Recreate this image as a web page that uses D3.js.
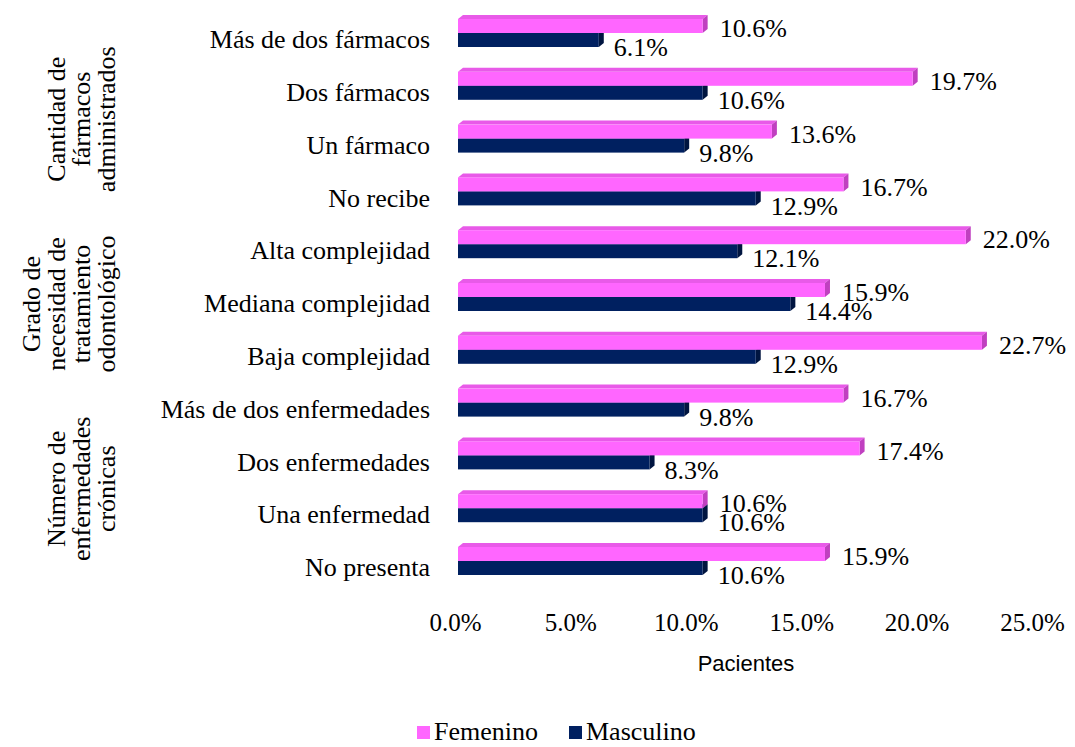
<!DOCTYPE html>
<html><head><meta charset="utf-8">
<script src="https://cdn.jsdelivr.net/npm/d3@7"></script>
<style>body{margin:0;background:#fff}svg{display:block}</style>
</head><body>
<svg id="c" width="1075" height="747"></svg>
<script>
const categories = ["Más de dos fármacos","Dos fármacos","Un fármaco","No recibe","Alta complejidad","Mediana complejidad","Baja complejidad","Más de dos enfermedades","Dos enfermedades","Una enfermedad","No presenta"];
const femenino = [10.6,19.7,13.6,16.7,22.0,15.9,22.7,16.7,17.4,10.6,15.9];
const masculino = [6.1,10.6,9.8,12.9,12.1,14.4,12.9,9.8,8.3,10.6,10.6];
const xTicks = [0,5,10,15,20,25];
const groups = [
  {lines:["Cantidad de","fármacos","administrados"], from:0, to:3},
  {lines:["Grado de","necesidad de","tratamiento","odontológico"], from:4, to:6},
  {lines:["Número de","enfermedades","crónicas"], from:7, to:10}
];
const seriesNames = ["Femenino","Masculino"];
const colors = {F:"#FF66FF", Ftop:"#E85AE8", Fside:"#C040C0", M:"#002060", Mtop:"#0A2A70", Mside:"#001540"};

const svg = d3.select("#c");
const serif = "'Liberation Serif','Times New Roman',serif";
const fs = 26;
const x = d3.scaleLinear().domain([0,25]).range([458,1035]);
const y = d3.scaleBand().domain(categories).range([12, 12+52.8*11]).padding(0);
const dx = 5, dy = -4, bh = 14;

function bar3d(g, v, top, front, topc, side){
  const x0 = x(0), x1 = x(v);
  g.append("polygon").attr("points", [[x0,top],[x0+dx,top+dy],[x1+dx,top+dy],[x1,top]].join(" ")).attr("fill", topc);
  g.append("polygon").attr("points", [[x1,top],[x1+dx,top+dy],[x1+dx,top+bh+dy],[x1,top+bh]].join(" ")).attr("fill", side);
  g.append("rect").attr("x", x0).attr("y", top).attr("width", x1-x0).attr("height", bh).attr("fill", front);
}

const gBars = svg.append("g");
categories.forEach((c,i)=>{
  const b = y(c);
  bar3d(gBars, masculino[i], b+21, colors.M, colors.Mtop, colors.Mside);
  bar3d(gBars, femenino[i], b+7, colors.F, colors.Ftop, colors.Fside);
});

// category labels
svg.append("g").selectAll("text").data(categories).join("text")
  .attr("x", 430).attr("y", d=>y(d)+27).attr("dy","0.35em")
  .attr("text-anchor","end").attr("font-family",serif).attr("font-size",fs).attr("fill","#000")
  .text(d=>d);

// value labels
const gVal = svg.append("g").attr("font-family",serif).attr("font-size",fs).attr("fill","#000");
categories.forEach((c,i)=>{
  const b = y(c);
  gVal.append("text").attr("x", x(femenino[i])+dx+12).attr("y", b+16).attr("dy","0.35em").text(femenino[i].toFixed(1)+"%");
  gVal.append("text").attr("x", x(masculino[i])+dx+10).attr("y", b+35).attr("dy","0.35em").text(masculino[i].toFixed(1)+"%");
});

// x axis ticks (no line)
const xAxis = d3.axisBottom(x).tickValues(xTicks).tickFormat(d=>d.toFixed(1)+"%").tickSize(0);
const ax = svg.append("g").attr("transform","translate(-3,612)").call(xAxis);
ax.select(".domain").remove();
ax.selectAll("text").attr("font-family",serif).attr("font-size",25).attr("fill","#000").attr("dy","0.35em").attr("y",10);

// axis title
svg.append("text").attr("x",746).attr("y",663).attr("dy","0.35em").attr("text-anchor","middle")
  .attr("font-family","'Liberation Sans',Arial,sans-serif").attr("font-size",22).attr("fill","#000").text("Pacientes");

// group labels
const gx = {0:81, 1:68, 2:81};
groups.forEach((g,gi)=>{
  const cy = (y(categories[g.from]) + y(categories[g.to]) + 56)/2;
  const cx = gx[gi];
  const n = g.lines.length, lh = 25;
  const t = svg.append("text").attr("transform",`translate(${cx},${cy}) rotate(-90)`)
    .attr("text-anchor","middle").attr("font-family",serif).attr("font-size",fs).attr("fill","#000");
  g.lines.forEach((l,k)=>{
    t.append("tspan").attr("x",0).attr("y", (k-(n-1)/2)*lh).attr("dy","0.35em").text(l);
  });
});

// legend
const leg = svg.append("g").attr("font-family",serif).attr("font-size",fs);
const legX = [417, 569];
seriesNames.forEach((s,i)=>{
  leg.append("rect").attr("x",legX[i]).attr("y",726).attr("width",13).attr("height",13).attr("fill", i===0?colors.F:colors.M);
  leg.append("text").attr("x",legX[i]+17).attr("y",731).attr("dy","0.35em").attr("fill","#000").text(s);
});
</script>
</body></html>
